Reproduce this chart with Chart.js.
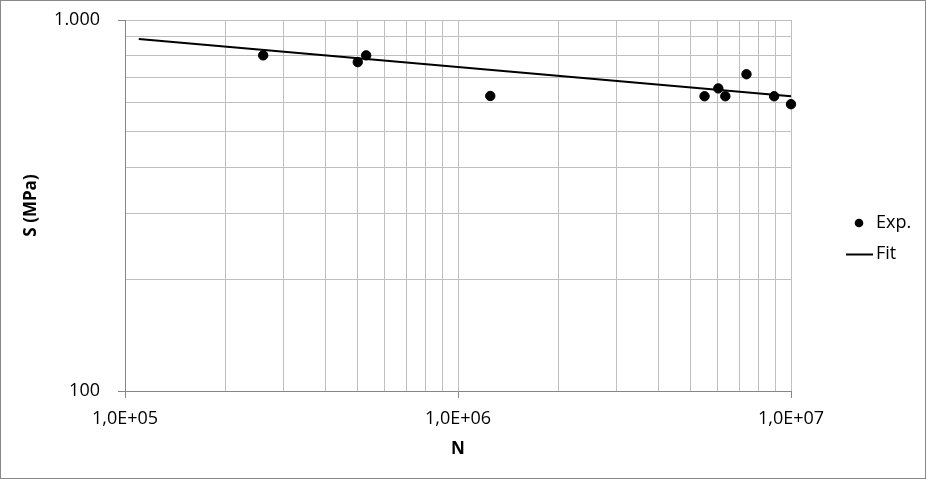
<!DOCTYPE html>
<html>
<head>
<meta charset="utf-8">
<script src="https://cdn.jsdelivr.net/npm/chart.js@4"></script>
<style>
  body { margin: 0; background: #fff; }
  canvas { display: block; }
</style>
</head>
<body>
<canvas id="myChart" width="926" height="479"></canvas>
<script>
const expN = [2.6e5, 5.0e5, 5.3e5, 1.25e6, 5.5e6, 6.05e6, 6.35e6, 7.35e6, 8.9e6, 1.0e7];
const expS = [803, 770, 803, 624, 623, 654, 623, 714, 623, 593];
// fitted line, two ends
const fitN = [1.1e5, 1.0e7];
const fitS = [889, 623];
// axis ranges and grid values
const nRange = [1e5, 1e7];
const sRange = [100, 1000];
const nTicks = [1e5, 2e5, 3e5, 4e5, 5e5, 6e5, 7e5, 8e5, 9e5,
                1e6, 2e6, 3e6, 4e6, 5e6, 6e6, 7e6, 8e6, 9e6, 1e7];
const sTicks = [100, 200, 300, 400, 500, 600, 700, 800, 900, 1000];
const nLabels = { 1e5: '1,0E+05', 1e6: '1,0E+06', 1e7: '1,0E+07' };
const sLabels = { 100: '100', 1000: '1.000' };

const fontFam = "'Open Sans', sans-serif";
const gridColor = '#bfbfbf';
const axisColor = '#868686';

function isMajor(v) {
  const l = Math.log10(v);
  return Math.abs(l - Math.round(l)) < 1e-9;
}

function toPoints(xs, ys) {
  return xs.map((x, i) => ({ x: x, y: ys[i] }));
}

// frame round the whole chart + legend on the right
const extras = {
  id: 'extras',
  afterDraw(chart) {
    const ctx = chart.ctx;
    const a = chart.chartArea;
    ctx.save();
    ctx.strokeStyle = '#888888';
    ctx.lineWidth = 1;
    ctx.strokeRect(0.5, 0.5, chart.width - 1, chart.height - 1);

    ctx.font = '18px ' + fontFam;
    ctx.fillStyle = '#000';
    ctx.textBaseline = 'middle';
    const lx = a.right + 55;
    // Exp.
    ctx.beginPath();
    ctx.arc(lx + 13, 223, 4.3, 0, Math.PI * 2);
    ctx.fill();
    ctx.fillText('Exp.', lx + 30, 223);
    // Fit
    ctx.strokeStyle = '#000';
    ctx.lineWidth = 2;
    ctx.beginPath();
    ctx.moveTo(lx, 254.5);
    ctx.lineTo(lx + 27, 254.5);
    ctx.stroke();
    ctx.fillText('Fit', lx + 30, 254);
    ctx.restore();
  }
};

const ctx = document.getElementById('myChart').getContext('2d');
const myChart = new Chart(ctx, {
  type: 'scatter',
  data: {
    datasets: [{
      label: 'Exp.',
      data: toPoints(expN, expS),
      backgroundColor: '#000',
      borderColor: '#000',
      pointRadius: 4.7,
      pointHoverRadius: 4.7,
      clip: false
    }, {
      label: 'Fit',
      data: toPoints(fitN, fitS),
      showLine: true,
      borderColor: '#000',
      borderWidth: 2,
      pointRadius: 0,
      clip: false
    }]
  },
  options: {
    responsive: false,
    animation: false,
    layout: { padding: { left: 0, right: 135, top: 20, bottom: 0 } },
    plugins: {
      legend: { display: false },
      tooltip: { enabled: false }
    },
    scales: {
      x: {
        type: 'logarithmic',
        min: nRange[0],
        max: nRange[1],
        afterBuildTicks: s => { s.ticks = nTicks.map(v => ({ value: v })); },
        afterFit: s => { s.height = 88; },
        border: { color: axisColor, width: 1 },
        grid: {
          color: gridColor,
          tickLength: 7,
          tickColor: c => isMajor(c.tick.value) ? axisColor : 'rgba(0,0,0,0)'
        },
        ticks: {
          autoSkip: false,
          maxRotation: 0,
          padding: 10,
          color: '#000',
          font: { family: fontFam, size: 18 },
          callback: v => nLabels[v] || ''
        },
        title: {
          display: true,
          text: 'N',
          color: '#000',
          font: { family: fontFam, size: 17, weight: 'bold' },
          padding: { top: 0, bottom: 20 }
        }
      },
      y: {
        type: 'logarithmic',
        min: sRange[0],
        max: sRange[1],
        afterBuildTicks: s => { s.ticks = sTicks.map(v => ({ value: v })); },
        afterFit: s => {
          s.width = 125;
          s.paddingTop = 0;
          s.paddingBottom = 0;
        },
        border: { color: axisColor, width: 1 },
        grid: {
          color: gridColor,
          tickLength: 7,
          tickColor: c => isMajor(c.tick.value) ? axisColor : 'rgba(0,0,0,0)'
        },
        ticks: {
          autoSkip: false,
          padding: 18,
          color: '#000',
          font: { family: fontFam, size: 18 },
          callback: v => sLabels[v] || ''
        },
        title: {
          display: true,
          text: 'S (MPa)',
          color: '#000',
          font: { family: fontFam, size: 17, weight: 'bold' },
          padding: { top: 21, bottom: 0 }
        }
      }
    }
  },
  plugins: [extras]
});
</script>
</body>
</html>
